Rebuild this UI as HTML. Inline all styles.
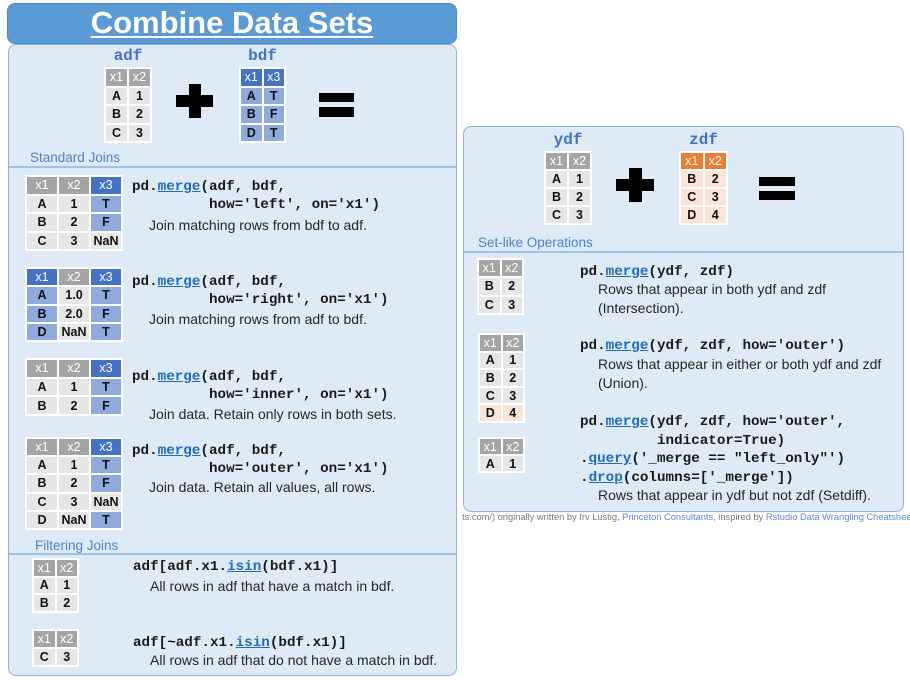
<!DOCTYPE html>
<html><head><meta charset="utf-8"><style>
*{margin:0;padding:0;box-sizing:border-box}
body{width:910px;height:680px;background:#fff;position:relative;overflow:hidden;font-family:"Liberation Sans",sans-serif}
.abs{position:absolute}
.title{left:7px;top:3px;width:450px;height:41px;background:#5b9bd5;border:1.5px solid #4a86c0;border-radius:8px;color:#fff;font-weight:bold;font-size:31px;text-align:center;line-height:38px}
.title span{text-decoration:underline;text-decoration-thickness:2px;text-underline-offset:3px}
.panel{background:#deebf7;border:1.5px solid #8fb3da;border-radius:8px}
.sec{font-size:13.5px;color:#4f81c7;line-height:16px;white-space:nowrap}
.hr{height:1.5px;background:#9dc3e6}
.lbl{font-family:"Liberation Mono",monospace;font-weight:bold;font-size:16px;color:#4472c4;line-height:18px;text-align:center}
.t{position:absolute;background:#fff;display:grid;gap:2px;padding:2px}
.t div{display:flex;align-items:center;justify-content:center;font-weight:bold;font-size:12.5px;color:#111}
.g{background:#a5a5a5;color:#fff!important;font-weight:normal!important}
.b{background:#4472c4;color:#fff!important;font-weight:normal!important}
.o{background:#ed7d31;color:#fff!important;font-weight:normal!important}
.l{background:#e6e6e6}
.m{background:#8faadc}
.p{background:#fbe5d6}
.c{position:absolute;font-family:"Liberation Mono",monospace;font-weight:bold;font-size:14.25px;color:#1a1a1a;white-space:pre;line-height:18px}
.c u{color:#1f6bc0;text-decoration:underline}
.d{position:absolute;font-size:14px;color:#262626;white-space:nowrap;line-height:18px}
.bar{position:absolute;background:#000}
</style></head><body>

<div class="abs panel" style="left:8px;top:44px;width:449px;height:632px"></div>
<div class="abs title"><span>Combine Data Sets</span></div>

<div class="abs lbl" style="left:104px;top:47px;width:48px">adf</div>
<div class="abs lbl" style="left:239px;top:47px;width:47px">bdf</div>

<div class="t" style="left:104px;top:67px;width:48px;height:76px;grid-template-columns:1fr 1fr;grid-template-rows:repeat(4,1fr)">
<div class="g">x1</div><div class="g">x2</div><div class="l">A</div><div class="l">1</div><div class="l">B</div><div class="l">2</div><div class="l">C</div><div class="l">3</div></div>
<div class="t" style="left:239px;top:67px;width:47px;height:76px;grid-template-columns:1fr 1fr;grid-template-rows:repeat(4,1fr)">
<div class="b">x1</div><div class="b">x3</div><div class="m">A</div><div class="m">T</div><div class="m">B</div><div class="m">F</div><div class="m">D</div><div class="m">T</div></div>

<div class="bar" style="left:189px;top:84px;width:12px;height:34px"></div>
<div class="bar" style="left:176px;top:95px;width:37px;height:12px"></div>
<div class="bar" style="left:319px;top:93px;width:35px;height:9px"></div>
<div class="bar" style="left:319px;top:107px;width:35px;height:10px"></div>

<div class="abs sec" style="left:30px;top:150px">Standard Joins</div>
<div class="abs hr" style="left:9px;top:166px;width:447px"></div>

<div class="t" style="left:25px;top:175px;width:98px;height:76px;grid-template-columns:1fr 1fr 1fr;grid-template-rows:repeat(4,1fr)">
<div class="g">x1</div><div class="g">x2</div><div class="b">x3</div>
<div class="l">A</div><div class="l">1</div><div class="m">T</div>
<div class="l">B</div><div class="l">2</div><div class="m">F</div>
<div class="l">C</div><div class="l">3</div><div class="l">NaN</div></div>
<div class="c" style="left:132px;top:178px">pd.<u>merge</u>(adf, bdf,
         how='left', on='x1')</div>
<div class="d" style="left:149px;top:216px">Join matching rows from bdf to adf.</div>

<div class="t" style="left:25px;top:267px;width:98px;height:75px;grid-template-columns:1fr 1fr 1fr;grid-template-rows:repeat(4,1fr)">
<div class="b">x1</div><div class="g">x2</div><div class="b">x3</div>
<div class="m">A</div><div class="l">1.0</div><div class="m">T</div>
<div class="m">B</div><div class="l">2.0</div><div class="m">F</div>
<div class="m">D</div><div class="l">NaN</div><div class="m">T</div></div>
<div class="c" style="left:132px;top:273px">pd.<u>merge</u>(adf, bdf,
         how='right', on='x1')</div>
<div class="d" style="left:149px;top:310px">Join matching rows from adf to bdf.</div>

<div class="t" style="left:25px;top:358px;width:98px;height:58px;grid-template-columns:1fr 1fr 1fr;grid-template-rows:repeat(3,1fr)">
<div class="g">x1</div><div class="g">x2</div><div class="b">x3</div>
<div class="l">A</div><div class="l">1</div><div class="m">T</div>
<div class="l">B</div><div class="l">2</div><div class="m">F</div></div>
<div class="c" style="left:132px;top:368px">pd.<u>merge</u>(adf, bdf,
         how='inner', on='x1')</div>
<div class="d" style="left:149px;top:405px">Join data. Retain only rows in both sets.</div>

<div class="t" style="left:25px;top:437px;width:98px;height:93px;grid-template-columns:1fr 1fr 1fr;grid-template-rows:repeat(5,1fr)">
<div class="g">x1</div><div class="g">x2</div><div class="b">x3</div>
<div class="l">A</div><div class="l">1</div><div class="m">T</div>
<div class="l">B</div><div class="l">2</div><div class="m">F</div>
<div class="l">C</div><div class="l">3</div><div class="l">NaN</div>
<div class="l">D</div><div class="l">NaN</div><div class="m">T</div></div>
<div class="c" style="left:132px;top:442px">pd.<u>merge</u>(adf, bdf,
         how='outer', on='x1')</div>
<div class="d" style="left:149px;top:478px">Join data. Retain all values, all rows.</div>

<div class="abs sec" style="left:35px;top:538px">Filtering Joins</div>
<div class="abs hr" style="left:9px;top:553px;width:447px"></div>

<div class="t" style="left:32px;top:558px;width:47px;height:55px;grid-template-columns:1fr 1fr;grid-template-rows:repeat(3,1fr)">
<div class="g">x1</div><div class="g">x2</div><div class="l">A</div><div class="l">1</div><div class="l">B</div><div class="l">2</div></div>
<div class="c" style="left:133px;top:558px">adf[adf.x1.<u>isin</u>(bdf.x1)]</div>
<div class="d" style="left:150px;top:577px">All rows in adf that have a match in bdf.</div>

<div class="t" style="left:32px;top:629px;width:47px;height:38px;grid-template-columns:1fr 1fr;grid-template-rows:repeat(2,1fr)">
<div class="g">x1</div><div class="g">x2</div><div class="l">C</div><div class="l">3</div></div>
<div class="c" style="left:133px;top:634px">adf[~adf.x1.<u>isin</u>(bdf.x1)]</div>
<div class="d" style="left:150px;top:651px">All rows in adf that do not have a match in bdf.</div>

<!-- right panel -->
<div class="abs panel" style="left:463px;top:126px;width:441px;height:386px"></div>
<div class="abs lbl" style="left:544px;top:131px;width:48px">ydf</div>
<div class="abs lbl" style="left:679px;top:131px;width:49px">zdf</div>

<div class="t" style="left:544px;top:151px;width:48px;height:74px;grid-template-columns:1fr 1fr;grid-template-rows:repeat(4,1fr)">
<div class="g">x1</div><div class="g">x2</div><div class="l">A</div><div class="l">1</div><div class="l">B</div><div class="l">2</div><div class="l">C</div><div class="l">3</div></div>
<div class="t" style="left:679px;top:151px;width:49px;height:74px;grid-template-columns:1fr 1fr;grid-template-rows:repeat(4,1fr)">
<div class="o">x1</div><div class="o">x2</div><div class="p">B</div><div class="p">2</div><div class="p">C</div><div class="p">3</div><div class="p">D</div><div class="p">4</div></div>

<div class="bar" style="left:629px;top:168px;width:13px;height:34px"></div>
<div class="bar" style="left:616px;top:179px;width:38px;height:12px"></div>
<div class="bar" style="left:759px;top:177px;width:36px;height:9px"></div>
<div class="bar" style="left:759px;top:191px;width:36px;height:9px"></div>

<div class="abs sec" style="left:478px;top:235px">Set-like Operations</div>
<div class="abs hr" style="left:464px;top:251px;width:439px"></div>

<div class="t" style="left:477px;top:258px;width:47px;height:57px;grid-template-columns:1fr 1fr;grid-template-rows:repeat(3,1fr)">
<div class="g">x1</div><div class="g">x2</div><div class="l">B</div><div class="l">2</div><div class="l">C</div><div class="l">3</div></div>
<div class="c" style="left:580px;top:263px">pd.<u>merge</u>(ydf, zdf)</div>
<div class="d" style="left:598px;top:280px">Rows that appear in both ydf and zdf</div>
<div class="d" style="left:598px;top:299px">(Intersection).</div>

<div class="t" style="left:478px;top:333px;width:47px;height:90px;grid-template-columns:1fr 1fr;grid-template-rows:repeat(5,1fr)">
<div class="g">x1</div><div class="g">x2</div><div class="l">A</div><div class="l">1</div><div class="l">B</div><div class="l">2</div><div class="l">C</div><div class="l">3</div><div class="p">D</div><div class="p">4</div></div>
<div class="c" style="left:580px;top:337px">pd.<u>merge</u>(ydf, zdf, how='outer')</div>
<div class="d" style="left:598px;top:355px">Rows that appear in either or both ydf and zdf</div>
<div class="d" style="left:598px;top:374px">(Union).</div>

<div class="t" style="left:478px;top:437px;width:47px;height:36px;grid-template-columns:1fr 1fr;grid-template-rows:repeat(2,1fr)">
<div class="g">x1</div><div class="g">x2</div><div class="l">A</div><div class="l">1</div></div>
<div class="c" style="left:580px;top:413px;line-height:18.5px">pd.<u>merge</u>(ydf, zdf, how='outer',
         indicator=True)
.<u>query</u>('_merge == "left_only"')
.<u>drop</u>(columns=['_merge'])</div>
<div class="d" style="left:598px;top:486px">Rows that appear in ydf but not zdf (Setdiff).</div>

<div class="abs" style="left:462px;top:512px;width:448px;height:10px;font-size:9.3px;line-height:10px;white-space:nowrap;overflow:hidden;color:#777">ts.com/) originally written by Irv Lustig, <span style="color:#5a8bd0">Princeton Consultants</span>, inspired by <span style="color:#5a8bd0">Rstudio Data Wrangling Cheatsheet</span></div>

</body></html>
